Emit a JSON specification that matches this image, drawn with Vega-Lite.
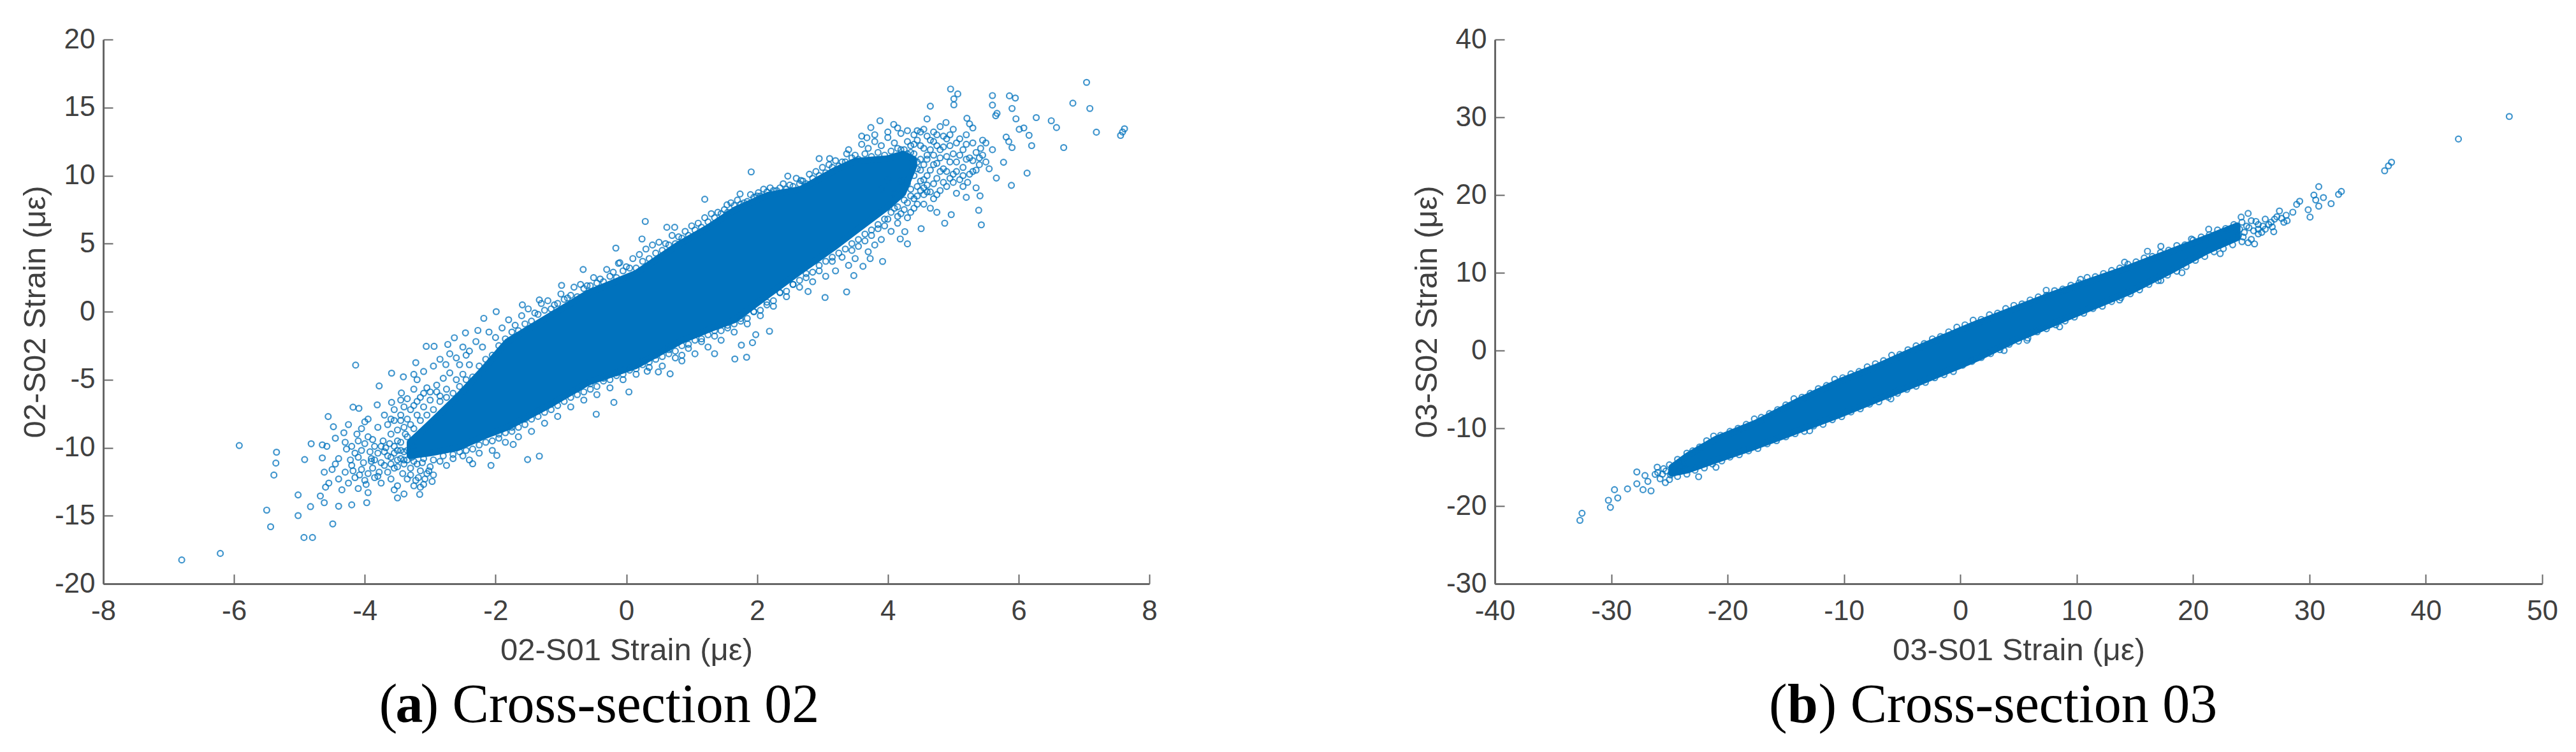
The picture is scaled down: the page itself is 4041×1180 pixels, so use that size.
{"$schema":"https://vega.github.io/schema/vega-lite/v6.json","background":"white","padding":{"left":31,"top":40,"right":0,"bottom":0},"spacing":398,
"config":{"view":{"stroke":null},"axis":{"grid":false,"domainColor":"#666666","domainWidth":3,"tickColor":"#666666","tickWidth":2,"tickSize":-15,"labelFont":"Liberation Sans","labelFontSize":44,"labelColor":"#404040","titleFont":"Liberation Sans","titleFontSize":49,"titleColor":"#404040","titleFontWeight":"normal","labelFlush":false,"labelOverlap":false}},
"datasets":{
"coreA":[{"x":-3.31,"lo":-10.6,"hi":-9.6},{"x":-3.0,"lo":-10.4,"hi":-8.2},{"x":-2.57,"lo":-10.0,"hi":-6.2},{"x":-2.2,"lo":-9.2,"hi":-4.3},{"x":-1.82,"lo":-8.5,"hi":-2.2},{"x":-1.2,"lo":-6.93,"hi":-0.4},{"x":-0.58,"lo":-5.2,"hi":1.39},{"x":0.15,"lo":-3.98,"hi":2.83},{"x":0.82,"lo":-2.19,"hi":5.0},{"x":1.27,"lo":-1.29,"hi":6.24},{"x":1.66,"lo":-0.6,"hi":7.49},{"x":2.16,"lo":1.2,"hi":8.56},{"x":2.67,"lo":3.0,"hi":9.0},{"x":3.17,"lo":4.7,"hi":10.35},{"x":3.5,"lo":5.9,"hi":11.07},{"x":4.0,"lo":7.7,"hi":11.25},{"x":4.23,"lo":8.7,"hi":11.6},{"x":4.4,"lo":10.7,"hi":11.2}],
"coreB":[{"x":-24.8,"lo":-15.8,"hi":-15.0},{"x":-23.43,"lo":-15.4,"hi":-13.5},{"x":-21,"lo":-14.1,"hi":-11.38},{"x":-17.5,"lo":-12.29,"hi":-9.25},{"x":-14,"lo":-10.32,"hi":-6.53},{"x":-10.51,"lo":-8.35,"hi":-4.05},{"x":-7.02,"lo":-6.22,"hi":-1.97},{"x":-3.52,"lo":-4.1,"hi":0.38},{"x":-0.03,"lo":-1.95,"hi":2.6},{"x":1.46,"lo":-1.0,"hi":3.52},{"x":4.75,"lo":1.4,"hi":5.4},{"x":8.03,"lo":3.5,"hi":7.28},{"x":11.32,"lo":5.56,"hi":9.01},{"x":14.6,"lo":7.6,"hi":10.73},{"x":17.89,"lo":10.1,"hi":12.61},{"x":21.18,"lo":12.77,"hi":14.5},{"x":23.8,"lo":14.5,"hi":16.07}],
"ptsA":[[7.04,16.85],[6.83,15.32],[7.09,14.93],[7.19,13.19],[7.59,13.2],[7.56,12.95],[7.62,13.44],[6.69,12.06],[6.58,13.53],[6.5,14.03],[6.27,14.26],[6.2,12.2],[6.16,12.96],[6.01,13.4],[6.08,13.5],[5.96,14.17],[5.9,14.93],[5.86,15.86],[5.95,15.7],[5.6,15.88],[5.6,15.18],[5.67,14.57],[5.65,14.4],[4.96,16.36],[5.07,16.0],[5.01,15.64],[5.01,15.2],[4.65,15.1],[4.6,14.16],[4.89,13.9],[5.21,14.21],[5.25,13.8],[5.3,13.5],[6.13,10.18],[5.89,9.28],[5.66,9.82],[5.77,10.98],[5.9,12.06],[5.85,12.5],[5.81,12.83],[5.41,8.51],[5.39,7.45],[5.43,6.38],[4.97,7.13],[4.87,6.5],[4.51,6.1],[4.3,4.98],[4.19,5.34],[4.26,5.88],[3.92,3.69],[3.73,3.9],[3.62,3.33],[3.48,2.65],[3.37,1.45],[3.04,1.04],[2.78,1.48],[2.19,-1.44],[1.98,-1.69],[1.93,-2.28],[1.76,-2.46],[1.84,-3.35],[1.66,-3.48],[1.35,-3.09],[0.85,-3.62],[0.67,-4.57],[0.49,-4.43],[0.32,-4.38],[1.91,10.27],[1.2,8.26],[0.29,6.63],[2.47,9.96],[1.74,8.65],[2.02,8.74],[1.54,7.85],[0.74,6.2],[0.62,6.2],[0.24,5.34],[3.88,14.03],[3.74,13.53],[3.68,12.78],[4.09,13.76],[2.95,11.25],[3.37,11.6],[3.11,11.25],[2.67,9.64],
[-6.8,-18.25],[-6.21,-17.77],[-5.92,-9.84],[-5.35,-10.33],[-5.36,-11.13],[-5.39,-12.01],[-5.5,-14.59],[-5.44,-15.81],[-5.02,-13.47],[-5.02,-14.99],[-4.93,-16.6],[-4.8,-16.6],[-4.83,-14.33],[-4.92,-10.87],[-4.82,-9.71],[-4.65,-9.79],[-4.65,-10.75],[-4.56,-7.71],[-4.48,-8.46],[-4.49,-15.6],[-4.68,-13.55],[-4.62,-14.04],[-4.4,-14.3],[-4.2,-14.2],[-3.97,-14.04],[-3.5,-13.69],[-3.16,-13.43],[-2.97,-12.48],[-2.35,-11.18],[-2.07,-11.3],[-1.98,-10.57],[-1.51,-10.87],[-1.33,-10.62],[-1.73,-9.76],[-0.46,-7.54],[-0.19,-6.67],[0.04,-5.9],[-4.09,-7.11],[-4.18,-7.02],[-3.81,-6.85],[-3.78,-5.46],[-3.59,-6.67],[-3.44,-5.98],
[-4.14,-3.93],[-3.59,-4.52],[-3.41,-4.79],[-3.25,-4.61],[-3.22,-3.75],[-2.76,-3.89],[-3.06,-2.55],[-2.94,-2.55],[-2.73,-2.41],[-2.63,-1.92],[-2.46,-1.56],[-2.27,-1.38],[-1.99,0],[-2.18,-0.49],[-1.59,0.5],[-1.33,0.86],[-0.99,1.93],[-0.66,3.1],[-0.16,4.67],[-0.12,3.55],
[-4.3,-9.6],[-4.28,-10.1],[-4.2,-9.9],[-4.15,-10.4],[-4.1,-9.5],[-4.05,-10.2],[-4.05,-8.6],[-4.0,-8.1],[-3.95,-7.9],[-3.95,-9.2],[-3.9,-10.8],[-3.88,-11.5],[-3.85,-9.9],[-3.85,-12.2],[-3.8,-10.4],[-3.8,-8.5],[-3.75,-11.1],[-3.75,-12.6],[-3.72,-9.5],[-3.7,-7.6],[-3.68,-10.0],[-3.65,-11.8],[-3.65,-8.3],[-3.6,-12.3],[-3.6,-9.0],[-3.6,-10.7],[-3.55,-13.1],[-3.55,-7.2],[-3.5,-11.4],[-3.5,-9.5],[-3.5,-12.8],[-3.45,-8.0],[-3.45,-10.2],[-3.42,-11.9],[-3.4,-13.4],[-3.4,-7.0],[-3.38,-9.0],[-3.35,-12.3],[-3.35,-10.9],[-3.3,-8.3],[-3.3,-11.5],[-3.25,-6.9],[-3.25,-12.8],[-3.2,-7.6],[-3.2,-11.2],[-3.18,-12.2],[-3.15,-6.3],[-3.15,-11.7],[-3.1,-7.0],[-3.1,-12.7],[-3.05,-11.9],[-3.05,-5.6],[-3.0,-11.4],[-3.0,-6.5],[-2.95,-12.0],[-2.9,-5.4],[-2.85,-11.0],[-2.85,-6.2],[-2.8,-4.9],[-2.75,-5.7],[-2.75,-11.3],[-2.7,-4.5],[-2.65,-10.8],[-2.6,-5.0],[-2.55,-3.9],[-2.5,-10.6],[-2.5,-4.6],[-2.45,-3.2],[-2.4,-10.9],[-2.4,-3.9],[-4.45,-9.3],[-4.45,-11.2],[-4.4,-12.3],[-4.4,-10.8],[-4.35,-13.1],[-4.32,-8.9],[-4.3,-11.8],[-4.25,-12.6],[-4.2,-11.3],[-4.15,-12.2],[-4.1,-13.0],[-4.05,-11.6],[-4.0,-12.4],[-3.95,-13.3],[-3.9,-11.0],[-4.5,-11.6],[-4.55,-12.6],[-4.6,-12.9],[-4.58,-9.9],[-4.62,-11.8],
[4.4,13.0],[4.5,12.2],[4.55,13.4],[4.6,11.5],[4.65,12.6],[4.7,10.8],[4.7,13.2],[4.75,9.8],[4.8,11.9],[4.8,13.6],[4.85,10.5],[4.85,12.9],[4.9,9.2],[4.9,11.4],[4.95,12.2],[5.0,10.1],[5.0,13.4],[5.05,8.7],[5.05,11.0],[5.1,9.7],[5.1,12.7],[5.15,10.6],[5.15,11.9],[5.2,8.4],[5.2,13.0],[5.22,9.5],[5.25,11.3],[5.3,10.3],[5.3,12.4],[5.35,9.1],[5.35,11.7],[5.4,10.8],[5.42,12.0],[5.45,12.6],[5.5,11.0],[5.5,12.4],[5.55,10.5],[5.6,11.9],[4.35,9.0],[4.45,8.5],[4.5,9.6],[4.55,7.9],[4.6,8.8],[4.65,7.6],[4.7,8.3],[4.75,7.3],[4.8,8.9],[4.4,7.6],[4.3,8.0],[4.3,6.9],[4.2,7.2],[4.15,6.5],[4.1,7.6],[4.05,5.9],[4.0,6.8],[3.95,6.3],[3.9,5.3],[3.85,6.1],[3.8,4.9],[3.75,5.6],[3.7,4.4],[3.65,5.2],[3.55,4.8],[3.5,3.9],[3.45,4.5],[3.4,3.4],[3.3,4.0],[3.2,3.0],[3.15,3.7],[3.05,2.6],[2.95,3.0],[2.85,2.2],[2.75,2.5],[2.65,1.8],[2.55,2.0],[2.45,1.1],[2.35,1.4],[2.25,0.4],[2.15,0.5],[2.05,-0.3],[1.95,0.0],[1.85,-0.9],[1.75,-0.7],[1.65,-1.5],[1.55,-1.2],[1.45,-2.1],[1.35,-1.8],[1.25,-2.6],[1.15,-2.2],[1.05,-3.1],[0.95,-2.7],[0.85,-3.2],[0.75,-3.4],[0.65,-3.1],[0.55,-4.0],[0.45,-3.5],[0.35,-4.1],[0.25,-3.9],[0.15,-4.6],[0.05,-4.3],[-0.05,-5.0],[-0.15,-4.7],[-0.25,-5.6],[-0.35,-5.1],[-0.45,-6.1],[-0.55,-5.7],[-0.65,-6.5],[-0.75,-6.1],[-0.85,-7.0],[-0.95,-6.6],[-1.05,-7.7],[-1.15,-7.2],[-1.25,-8.2],[-1.35,-7.7],[-1.45,-8.8],[-1.55,-8.3],[-1.65,-9.2],[-1.75,-8.8],[-1.85,-9.6],[-1.95,-9.3],[-2.05,-10.2],[-2.15,-9.6],[-2.25,-10.4],
[-3.2,-5.0],[-3.1,-4.4],[-2.95,-4.0],[-2.85,-3.5],[-2.7,-3.1],[-2.6,-3.4],[-2.5,-2.6],[-2.4,-2.9],[-2.3,-2.2],[-2.2,-2.6],[-2.1,-1.5],[-2.0,-1.9],[-1.9,-1.2],[-1.8,-0.6],[-1.7,-1.0],[-1.6,-0.3],[-1.5,0.2],[-1.4,-0.1],[-1.3,0.6],[-1.2,0.8],[-1.1,0.5],[-1.0,1.3],[-0.9,1.0],[-0.8,1.8],[-0.7,2.0],[-0.6,1.9],[-0.5,2.5],[-0.4,2.4],[-0.3,3.1],[-0.2,2.9],[-0.1,3.6],[0.0,3.3],[0.1,3.9],[0.2,4.2],[0.3,4.6],[0.4,4.9],[0.5,5.1],[0.6,5.0],[0.7,5.6],[0.8,5.5],[0.9,5.9],[1.0,6.3],[1.1,6.5],[1.2,6.9],[1.3,7.2],[1.4,7.3],[1.5,7.5],[1.6,8.0],[1.7,8.2],[1.8,8.0],[1.9,8.6],[2.0,8.5],[2.1,9.0],[2.2,9.1],[2.3,8.9],[2.4,9.4],[2.5,9.3],[2.6,9.8],[2.7,9.6],[2.8,10.1],[2.9,10.3],[3.0,10.6],[3.1,10.8],[3.2,11.1],[3.3,11.0],[3.4,11.9],[3.5,11.5],[3.6,12.3],[3.7,12.0],[3.8,12.5],[3.9,12.2],[4.0,12.8],[4.1,12.4],[4.2,13.1],[4.3,12.5],[3.9,9.0],[4.0,9.7],[4.1,8.7],[4.2,9.6],[4.3,9.4],[4.4,10.0],[4.45,11.0],[4.5,10.4],[4.55,9.1],[4.6,10.0],[4.2,11.9],[4.3,11.6],
[-3.25,-8.6],[-3.15,-8.0],[-3.05,-7.6],[-2.95,-7.2],[-2.85,-6.6],[-2.75,-6.3],[-2.65,-6.0],[-2.55,-5.5],[-2.45,-5.0],[-2.35,-4.8],[-2.25,-4.0],[-2.15,-3.5],[-2.05,-3.2],[-1.95,-2.5],[-1.85,-2.0],[-1.75,-1.5],[-1.65,-1.4],[-1.55,-0.9],[-1.45,-0.7],[-1.35,-0.2],[-1.25,0.1],[-1.15,0.2],[-1.05,0.6],[-0.95,0.9],[-0.85,1.2],[-0.75,1.1],[-0.65,1.7],[-0.55,1.9],[-0.45,2.1],[-0.35,2.2],[-0.25,2.6],[-0.15,2.5],[-0.05,3.0],[0.05,3.2],[0.15,3.2],[0.25,3.7],[0.35,3.9],[0.45,4.3],[0.55,4.5],[0.65,4.9],[0.75,5.0],[0.85,5.4],[0.95,5.6],[1.05,6.0],[1.15,6.2],[1.25,6.6],[1.35,6.9],[1.45,7.2],[1.55,7.3],[1.65,7.8],[1.75,7.9],[1.85,8.1],[1.95,8.4],[2.05,8.5],[2.15,8.8],[2.25,8.9],[2.35,9.1],[2.45,9.0],[2.55,9.2],[2.65,9.4],[2.75,9.4],[2.85,9.8],[2.95,10.0],[3.05,10.2],[3.15,10.6],[3.25,10.7],[3.35,11.0],[3.45,11.3],[3.55,11.2],[3.65,11.6],[3.75,11.4],[3.85,11.7],[3.95,11.5],[4.05,11.8],[4.15,12.0],[4.25,11.9],[4.35,11.7],
[-3.4,-10.9],[-3.25,-11.0],[-3.1,-10.8],[-2.95,-10.9],[-2.8,-10.6],[-2.65,-10.5],[-2.55,-10.3],[-2.45,-10.2],[-2.35,-10.1],[-2.25,-9.8],[-2.05,-9.5],[-1.95,-9.0],[-1.85,-8.9],[-1.75,-8.5],[-1.65,-8.5],[-1.55,-7.9],[-1.45,-7.9],[-1.35,-7.3],[-1.25,-7.4],[-1.15,-6.8],[-1.05,-6.9],[-0.95,-6.2],[-0.85,-6.3],[-0.75,-5.7],[-0.65,-5.9],[-0.55,-5.3],[-0.45,-5.5],[-0.35,-4.9],[-0.25,-5.0],[-0.15,-4.5],[-0.05,-4.6],[0.05,-4.0],[0.15,-4.2],[0.25,-3.6],[0.35,-3.7],[0.45,-3.2],[0.55,-3.3],[0.65,-2.8],[0.75,-2.9],[0.85,-2.5],[0.95,-2.4],[1.05,-2.1],[1.15,-2.0],[1.25,-1.7],[1.35,-1.4],[1.45,-1.4],[1.55,-1.0],[1.65,-0.9],[1.75,-0.5],[1.85,-0.5],[1.95,0.0],[2.05,0.1],[2.15,0.7],[2.25,0.8],[2.35,1.4],[2.45,1.5],[2.55,2.0],[2.65,2.3],[2.75,2.8],[2.85,2.9],[2.95,3.4],[3.05,3.7],[3.15,4.0],[3.25,4.3],[3.35,4.6],[3.45,5.0],[3.55,5.3],[3.65,5.7],[3.75,6.0],[3.85,6.4],[3.95,6.8],[4.05,7.3],[4.15,7.7],[4.25,8.2],[4.35,8.5],[4.45,9.2],[4.55,9.7],
[-3.45,-9.6],[-3.4,-10.3],[-3.35,-9.2],[-3.25,-9.9],[-3.5,-10.2],[-3.55,-9.9],[4.45,10.5],[4.5,11.2],[4.55,10.8],[4.4,11.6],[4.6,11.2],[4.65,10.4],[4.7,11.5],[4.75,10.9],
[-3.35,-10.2],[-3.4,-11.2],[-3.45,-10.8],[-3.5,-10.9],[-3.55,-11.5],[-3.55,-10.4],[-3.6,-11.2],[-3.62,-9.7],[-3.65,-10.6],[-3.7,-11.3],[-3.7,-10.3],[-3.75,-9.9],[-3.78,-11.8],[-3.8,-12.1],[-3.85,-10.9],[-3.88,-9.4],[-3.92,-10.3],[-3.95,-11.9],[-3.98,-12.7],[-4.0,-9.7],[-4.02,-11.1],[-4.08,-12.0],[-4.1,-10.7],[-4.12,-9.0],[-4.18,-11.7],[-4.22,-10.9],[-4.25,-8.3],[-3.3,-12.0],[-3.28,-10.7],[-3.22,-12.4],[-3.15,-12.9],[-3.12,-11.1],[-3.08,-12.3],[-3.02,-11.7],[-3.4,-8.5],[-3.45,-7.6],[-3.5,-8.7],[-3.55,-8.0],[-3.3,-7.2],[-3.35,-7.9],[-3.2,-6.6],[-3.1,-6.0],[-3.0,-5.9],[-2.9,-5.9],[-3.25,-5.7],[-3.35,-6.4],[-3.45,-6.5],[-3.6,-7.9],
[4.35,12.2],[4.4,12.3],[4.45,12.6],[4.5,13.2],[4.55,12.0],[4.6,12.9],[4.65,11.9],[4.7,12.5],[4.75,12.2],[4.8,11.3],[4.85,12.1],[4.9,12.7],[4.95,11.0],[5.0,11.6],[5.0,9.5],[5.05,12.4],[4.95,9.8],[4.9,10.3],[4.85,9.5],[4.8,10.3],[4.75,8.6],[4.7,9.4],[4.65,8.8],[4.6,9.3],[4.55,8.6],[4.5,8.9],[4.45,7.9],[4.4,8.3],[4.35,7.3],[4.25,7.5],[4.15,7.0],[5.1,11.5],[5.15,10.0],[5.2,11.2],[5.25,10.1],[5.3,11.1],[5.35,10.4],[5.15,9.2],[5.05,10.3],[5.45,11.5],[5.2,12.3],[5.4,11.3],[4.95,13.0],[4.75,13.0],[4.45,13.3],[4.3,13.3],[4.15,13.5],[4.0,13.2],[3.8,13.0],[3.6,12.9]],
"ptsB":[[47.17,30.1],[42.8,27.2],[37.05,24.22],[36.79,23.75],[36.46,23.12],[30.8,21.08],[32.74,20.46],[32.5,20.08],[30.38,19.99],[31.2,19.67],[30.54,19.36],[31.86,18.89],[30.8,18.57],[29.16,19.2],[28.9,18.8],[29.89,18.1],[30.05,17.16],[28.57,17.79],[27.42,17.95],[28.08,16.69],[26.93,15.28],[25.28,13.71],[24.73,13.87],[22.33,12.46],[24.73,17.63],[24.13,17.16],[21.34,15.6],[19.86,14.34],[17.23,13.4],[16.08,12.77],[14.11,11.36],[10.33,9.16],[7.38,7.75],[19.04,10.01],[17.23,9.01],[13.68,6.5],[8.53,3.05],[5.73,1.32],[3.76,0.0],
[-32.69,-21.84],[-32.51,-20.93],[-30.24,-19.26],[-30.07,-20.17],[-29.44,-18.96],[-29.72,-17.9],[-28.6,-17.8],[-27.8,-15.62],[-27.8,-17.14],[-27.1,-16.08],[-27.27,-17.9],[-26.58,-18.05],[-26.85,-16.83],[-26.05,-15.0],[-26.23,-15.93],[-25.35,-16.99],[-24.83,-15.77],[-22.49,-16.23],[-21,-15.02],[-12.95,-10.32],[-5.97,-6.22],
[-25.5,-15.2],[-25,-14.7],[-24.3,-14.0],[-23.5,-13.2],[-23,-12.9],[-22.4,-12.4],[-21.8,-11.6],[-21.2,-11.0],[-20.6,-10.9],[-19.8,-10.4],[-19.1,-10.0],[-18.4,-9.5],[-17.7,-8.8],[-17.1,-8.6],[-16.4,-8.1],[-15.7,-7.6],[-15,-7.0],[-14.3,-6.2],[-13.6,-6.0],[-12.9,-5.5],[-12.2,-4.9],[-11.5,-4.5],[-10.8,-3.7],[-10.1,-3.5],[-9.4,-3.0],[-8.7,-2.7],[-8,-2.1],[-7.3,-1.7],[-6.6,-1.3],[-5.9,-0.6],[-5.2,-0.5],[-4.5,0.1],[-3.8,0.6],[-3.1,0.9],[-2.4,1.5],[-1.7,1.8],[-1,2.4],[-0.3,3.0],[0.4,3.3],[1.1,3.9],[1.8,4.0],[2.5,4.6],[3.2,4.8],[3.9,5.4],[4.6,5.8],[5.3,6.0],[6,6.5],[6.7,6.9],[7.4,7.1],[8.1,7.7],[8.8,7.9],[9.5,8.4],[10.2,8.7],[10.9,9.4],[11.6,9.5],[12.3,9.9],[13,10.3],[13.7,10.6],[14.4,11.1],[15.1,11.4],[15.8,11.9],[16.5,12.1],[17.2,12.6],[17.9,12.9],[18.6,13.5],[19.3,13.6],[20,14.2],[20.7,14.6],[21.4,14.9],[22.1,15.5],[22.8,15.7],[23.5,16.2],[24.2,16.5],[25,16.7],[25.6,16.2],[26.2,16.9],[26.7,16.5],[27.2,17.2],
[-25.8,-16.5],[-25,-16.6],[-24.3,-16.2],[-23.5,-15.9],[-22.8,-15.4],[-22,-15.1],[-21.3,-14.6],[-20.5,-14.2],[-19.8,-13.7],[-19,-13.4],[-18.2,-12.9],[-17.4,-12.6],[-16.6,-12.0],[-15.8,-11.6],[-15,-11.1],[-14.2,-10.7],[-13.4,-10.4],[-12.6,-9.7],[-11.8,-9.5],[-11,-8.9],[-10.2,-8.5],[-9.4,-7.9],[-8.6,-7.5],[-7.8,-6.9],[-7,-6.6],[-6.2,-6.0],[-5.4,-5.5],[-4.6,-5.0],[-3.8,-4.6],[-3,-4.1],[-2.2,-3.5],[-1.4,-3.1],[-0.6,-2.7],[0.2,-1.9],[1,-1.4],[1.8,-0.9],[2.6,-0.4],[3.4,0.1],[4.2,0.8],[5,1.2],[5.8,1.6],[6.6,2.4],[7.4,2.8],[8.2,3.3],[9,3.8],[9.8,4.3],[10.6,4.8],[11.4,5.4],[12.2,5.7],[13,6.3],[13.8,6.8],[14.6,7.3],[15.4,7.8],[16.2,8.5],[17,9.0],[17.8,9.7],[18.6,10.2],[19.4,10.8],[20.2,11.6],[21,12.1],[21.8,12.7],[22.6,13.1],[23.4,13.6],[24.2,14.0],[25,14.3],[25.6,15.0],[26.2,15.6],[26.8,15.9],
[-26,-15.7],[-25.6,-15.9],[-25.3,-15.5],[-24.9,-16.0],[-24.6,-15.3],[-24.2,-15.6],[-24,-15.0],[-23.8,-14.5],[-23.6,-15.2],[24,15.6],[24.4,15.2],[24.8,15.8],[25.2,15.4],[25.6,15.6],[26,16.0],[24.6,16.0],[23.9,14.8],[24.3,14.6],[25.4,16.6],[25.9,15.2],[26.5,16.2],[27,16.9],[27.6,17],[28,17.4],[27.8,16.5]]
},
"hconcat":[
{"width":1641,"height":854,"layer":[
{"data":{"name":"coreA"},"mark":{"type":"area","color":"#0072BD","stroke":"#0072BD","strokeWidth":10,"strokeJoin":"round"},"encoding":{"x":{"field":"x","type":"quantitative","scale":{"domain":[-8,8],"nice":false,"zero":false},"axis":{"title":"02-S01 Strain (με)","values":[-8,-6,-4,-2,0,2,4,6,8],"labelExpr":"'' + datum.value","labelPadding":36,"titlePadding":15}},"y":{"field":"lo","type":"quantitative","scale":{"domain":[-20,20],"nice":false,"zero":false},"axis":{"title":"02-S02 Strain (με)","values":[-20,-15,-10,-5,0,5,10,15,20],"labelExpr":"'' + datum.value","labelPadding":28,"titlePadding":5}},"y2":{"field":"hi"}}},
{"data":{"name":"ptsA"},"mark":{"type":"point","shape":"circle","filled":false,"color":"#0072BD","size":80,"strokeWidth":2.2,"opacity":0.75},"encoding":{"x":{"field":"0","type":"quantitative"},"y":{"field":"1","type":"quantitative"}}},
{"data":{"values":[{"part":"open"}]},"mark":{"type":"text","font":"Liberation Serif","fontSize":86,"align":"left","baseline":"alphabetic","color":"black"},"encoding":{"x":{"datum":-3.78},"y":{"datum":-30.16},"text":{"value":"("}}},
{"data":{"values":[{"part":"letter"}]},"mark":{"type":"text","font":"Liberation Serif","fontSize":86,"fontWeight":"bold","align":"left","baseline":"alphabetic","color":"black"},"encoding":{"x":{"datum":-3.53},"y":{"datum":-30.16},"text":{"value":"a"}}},
{"data":{"values":[{"part":"rest"}]},"mark":{"type":"text","font":"Liberation Serif","fontSize":86,"align":"left","baseline":"alphabetic","color":"black"},"encoding":{"x":{"datum":-3.15},"y":{"datum":-30.16},"text":{"value":") Cross-section 02"}}}
]},
{"width":1643,"height":854,"layer":[
{"data":{"name":"coreB"},"mark":{"type":"area","color":"#0072BD","stroke":"#0072BD","strokeWidth":10,"strokeJoin":"round"},"encoding":{"x":{"field":"x","type":"quantitative","scale":{"domain":[-40,50],"nice":false,"zero":false},"axis":{"title":"03-S01 Strain (με)","values":[-40,-30,-20,-10,0,10,20,30,40,50],"labelExpr":"'' + datum.value","labelPadding":36,"titlePadding":15}},"y":{"field":"lo","type":"quantitative","scale":{"domain":[-30,40],"nice":false,"zero":false},"axis":{"title":"03-S02 Strain (με)","values":[-30,-20,-10,0,10,20,30,40],"labelExpr":"'' + datum.value","labelPadding":28,"titlePadding":5}},"y2":{"field":"hi"}}},
{"data":{"name":"ptsB"},"mark":{"type":"point","shape":"circle","filled":false,"color":"#0072BD","size":80,"strokeWidth":2.2,"opacity":0.75},"encoding":{"x":{"field":"0","type":"quantitative"},"y":{"field":"1","type":"quantitative"}}},
{"data":{"values":[{"part":"open"}]},"mark":{"type":"text","font":"Liberation Serif","fontSize":86,"align":"left","baseline":"alphabetic","color":"black"},"encoding":{"x":{"datum":-16.45},"y":{"datum":-47.8},"text":{"value":"("}}},
{"data":{"values":[{"part":"letter"}]},"mark":{"type":"text","font":"Liberation Serif","fontSize":86,"fontWeight":"bold","align":"left","baseline":"alphabetic","color":"black"},"encoding":{"x":{"datum":-14.86},"y":{"datum":-47.8},"text":{"value":"b"}}},
{"data":{"values":[{"part":"rest"}]},"mark":{"type":"text","font":"Liberation Serif","fontSize":86,"align":"left","baseline":"alphabetic","color":"black"},"encoding":{"x":{"datum":-12.2},"y":{"datum":-47.8},"text":{"value":") Cross-section 03"}}}
]}
]}
